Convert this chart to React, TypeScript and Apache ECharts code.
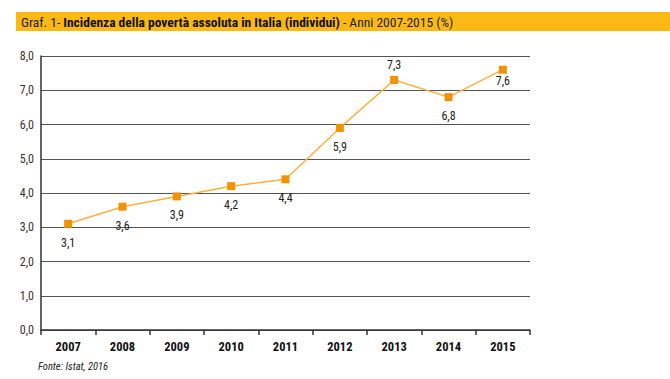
import React, { useEffect, useRef } from "react";
import * as echarts from "echarts";

const years = ["2007", "2008", "2009", "2010", "2011", "2012", "2013", "2014", "2015"];
const values = [3.1, 3.6, 3.9, 4.2, 4.4, 5.9, 7.3, 6.8, 7.6];
const labelAbove = [false, false, false, false, false, false, true, false, false];
const labelDistance = [9, 9, 9, 9, 9, 9, 5, 9, 1];

const fmt = (v: number) => v.toFixed(1).replace(".", ",");
const FONT = "'Liberation Sans Narrow', 'Roboto Condensed', Roboto, sans-serif";

export default function App() {
  const ref = useRef<HTMLDivElement>(null);
  useEffect(() => {
    if (!ref.current) return;
    const chart = echarts.init(ref.current, undefined, { renderer: "svg" });
    chart.setOption({
      animation: false,
      textStyle: { fontFamily: FONT },
      grid: { left: 41, right: 140, top: 56, bottom: 49, containLabel: false },
      xAxis: {
        type: "category",
        data: years,
        boundaryGap: true,
        axisLine: { lineStyle: { color: "#333", width: 1.5 } },
        axisTick: { show: true, length: 5, lineStyle: { color: "#333", width: 1.5 } },
        axisLabel: { color: "#111", fontWeight: "bold", fontSize: 12.5, margin: 10, fontFamily: FONT },
      },
      yAxis: {
        type: "value",
        min: 0,
        max: 8,
        interval: 1,
        axisLine: { show: true, lineStyle: { color: "#333", width: 1.5 } },
        axisTick: { show: false },
        axisLabel: { color: "#333", fontSize: 12, margin: 7, formatter: (v: number) => fmt(v), fontFamily: FONT },
        splitLine: { lineStyle: { color: "#555", width: 1.2 } },
      },
      series: [
        {
          type: "line",
          data: values.map((v, i) => ({
            value: v,
            label: {
              position: labelAbove[i] ? "top" : "bottom",
              distance: labelDistance[i],
            },
          })),
          symbol: "rect",
          symbolSize: 8,
          itemStyle: { color: "#F39200" },
          lineStyle: { color: "#FBB040", width: 1.5 },
          label: {
            show: true,
            color: "#222",
            fontSize: 12,
            fontFamily: FONT,
            formatter: (p: any) => fmt(p.value),
          },
        },
      ],
      graphic: [
        { type: "rect", shape: { x: 16, y: 12, width: 654, height: 19 }, style: { fill: "#FDB913" } },
        {
          type: "text",
          x: 21,
          y: 21.5,
          style: {
            text: "{n|Graf. 1- }{b|Incidenza della povertà assoluta in Italia (individui)}{n| - Anni 2007-2015 (%)}",
            verticalAlign: "middle",
            rich: {
              n: { fontSize: 13.5, fill: "#222", fontFamily: FONT },
              b: { fontSize: 13.5, fill: "#111", fontWeight: "bold", fontFamily: FONT },
            },
          },
        },
        {
          type: "text",
          x: 38,
          y: 366,
          style: {
            text: "Fonte: Istat, 2016",
            fontSize: 10.5,
            fontStyle: "italic",
            fill: "#222",
            fontFamily: FONT,
            verticalAlign: "middle",
          },
        },
      ],
    });
    return () => chart.dispose();
  }, []);
  return <div ref={ref} style={{ width: 670, height: 379, position: "absolute", left: 0, top: 0, background: "#fff" }} />;
}
